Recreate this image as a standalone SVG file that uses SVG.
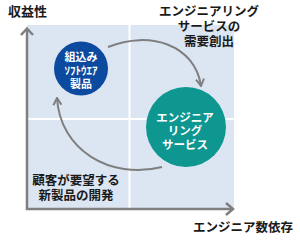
<svg xmlns="http://www.w3.org/2000/svg" width="300" height="242" viewBox="0 0 300 242">
<style>
.t{font-family:"Liberation Sans","Noto Sans CJK JP",sans-serif;font-weight:bold;fill:#1a1a1a}
.w{font-family:"Liberation Sans","Noto Sans CJK JP",sans-serif;font-weight:bold;fill:#ffffff;text-anchor:middle}
.ax{stroke:#7f7f7f;stroke-width:2.5;fill:none}
.arc{stroke:#7f7f7f;stroke-width:2;fill:none;marker-end:url(#chev)}
</style>
<defs>
<marker id="chev" viewBox="0 0 10 10" markerWidth="10" markerHeight="10" refX="9" refY="5" orient="auto" markerUnits="userSpaceOnUse">
<path d="M2,1 L9,5 L2,9" fill="none" stroke="#7f7f7f" stroke-width="2"/>
</marker>
</defs>
<g id="background">
<rect x="27" y="25" width="207" height="184" fill="#dce6f2"/>
<line x1="129.5" y1="25" x2="129.5" y2="208" stroke="#ffffff" stroke-width="2"/>
<line x1="27" y1="119" x2="234" y2="119" stroke="#ffffff" stroke-width="2"/>
</g>
<g id="axes">
<path class="ax" d="M27,29 L27,209 L233,209"/>
<path class="ax" d="M21,35 L27,28.5 L33,35"/>
<path class="ax" d="M226,203 L233,209 L226,215"/>
<text class="t" x="8" y="16" font-size="13">収益性</text>
<text class="t" x="293" y="232" font-size="12.5" text-anchor="end">エンジニア数依存</text>
</g>
<g id="connectors">
<path class="arc" d="M108,47 C150,30 195,45 201,86"/>
<path class="arc" d="M162,167 C110,180 60,150 57,98"/>
</g>
<g id="node-embedded">
<circle cx="81" cy="68.5" r="27" fill="#0b4a9e"/>
<text class="w" x="81" y="61" font-size="11">組込み</text>
<text class="w" x="81" y="74.5" font-size="11">ｿﾌﾄｳｴｱ</text>
<text class="w" x="81" y="87.5" font-size="11">製品</text>
</g>
<g id="node-engineering">
<circle cx="186" cy="127" r="40" fill="#0e9691"/>
<text class="w" x="185" y="121.5" font-size="11.5">エンジニア</text>
<text class="w" x="185" y="135" font-size="11.5">リング</text>
<text class="w" x="185" y="148.5" font-size="11.5">サービス</text>
</g>
<g id="label-demand">
<text class="t" x="209" y="16" font-size="12.5" text-anchor="middle">エンジニアリング</text>
<text class="t" x="209" y="31" font-size="12.5" text-anchor="middle">サービスの</text>
<text class="t" x="209" y="46" font-size="12.5" text-anchor="middle">需要創出</text>
</g>
<g id="label-newproduct">
<text class="t" x="76" y="185" font-size="12.5" text-anchor="middle">顧客が要望する</text>
<text class="t" x="76" y="200" font-size="12.5" text-anchor="middle">新製品の開発</text>
</g>
</svg>
